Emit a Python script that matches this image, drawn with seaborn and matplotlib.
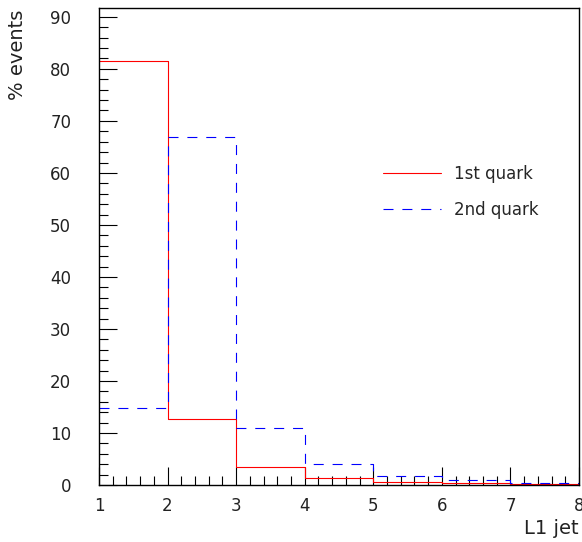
import numpy as np
import pandas as pd
import matplotlib
matplotlib.use("Agg")
import matplotlib.pyplot as plt
from matplotlib.ticker import MultipleLocator, AutoMinorLocator
import seaborn as sns

# Bin edges of the L1 jet multiplicity and percentage of events per bin
bin_edges = [1, 2, 3, 4, 5, 6, 7, 8]
first_quark = [81.5, 12.7, 3.5, 1.25, 0.6, 0.4, 0.2]
second_quark = [14.8, 66.9, 11.0, 4.0, 1.7, 1.0, 0.4]
series_labels = ["1st quark", "2nd quark"]

centers = [(a + b) / 2 for a, b in zip(bin_edges[:-1], bin_edges[1:])]
df = pd.DataFrame({
    "jet": centers * 2,
    "pct": first_quark + second_quark,
    "sample": [series_labels[0]] * len(centers) + [series_labels[1]] * len(centers),
})

sns.set_style("ticks")
plt.rcParams["font.family"] = ["DejaVu Sans"]

fig = plt.figure(figsize=(5.82, 5.42), dpi=100)
ax = fig.add_axes([0.170, 0.1052, 0.8248, 0.880])

styles = {series_labels[0]: dict(color="#ff0000", linestyle="-"),
          series_labels[1]: dict(color="#0000ff", linestyle=(0, (9, 8)))}
for name in series_labels:
    sub = df[df["sample"] == name]
    sns.histplot(data=sub, x="jet", weights="pct", bins=bin_edges,
                 element="step", fill=False, ax=ax, linewidth=0.8,
                 label=name, **styles[name])

ax.set_xlim(1, 8)
ax.set_ylim(0, 91.7)
ax.xaxis.set_major_locator(MultipleLocator(1))
ax.xaxis.set_minor_locator(AutoMinorLocator(5))
ax.yaxis.set_major_locator(MultipleLocator(10))
ax.yaxis.set_minor_locator(AutoMinorLocator(5))
ax.tick_params(which="both", direction="in", top=False, right=False,
               color="black", width=0.8)
ax.tick_params(which="major", length=13, labelsize=12, labelcolor="#222222")
ax.tick_params(which="minor", length=6.5)
ax.tick_params(axis="y", which="major", pad=20)
ax.tick_params(axis="x", which="major", pad=9)
for sp in ax.spines.values():
    sp.set_visible(True)
    sp.set_color("black")
    sp.set_linewidth(1.0)

ax.set_xlabel("")
ax.set_ylabel("")
fig.text(0.9948, 0.008, "L1 jet", ha="right", va="bottom", fontsize=14,
         color="#222222")
fig.text(0.030, 0.982, "% events", ha="center", va="top", rotation=90,
         fontsize=14, color="#222222")

ax.legend(loc="upper left", bbox_to_anchor=(0.56, 0.703), frameon=False,
          fontsize=12, handlelength=3.5, handletextpad=0.8, labelspacing=1.1)

fig.savefig("out.png", dpi=100)
